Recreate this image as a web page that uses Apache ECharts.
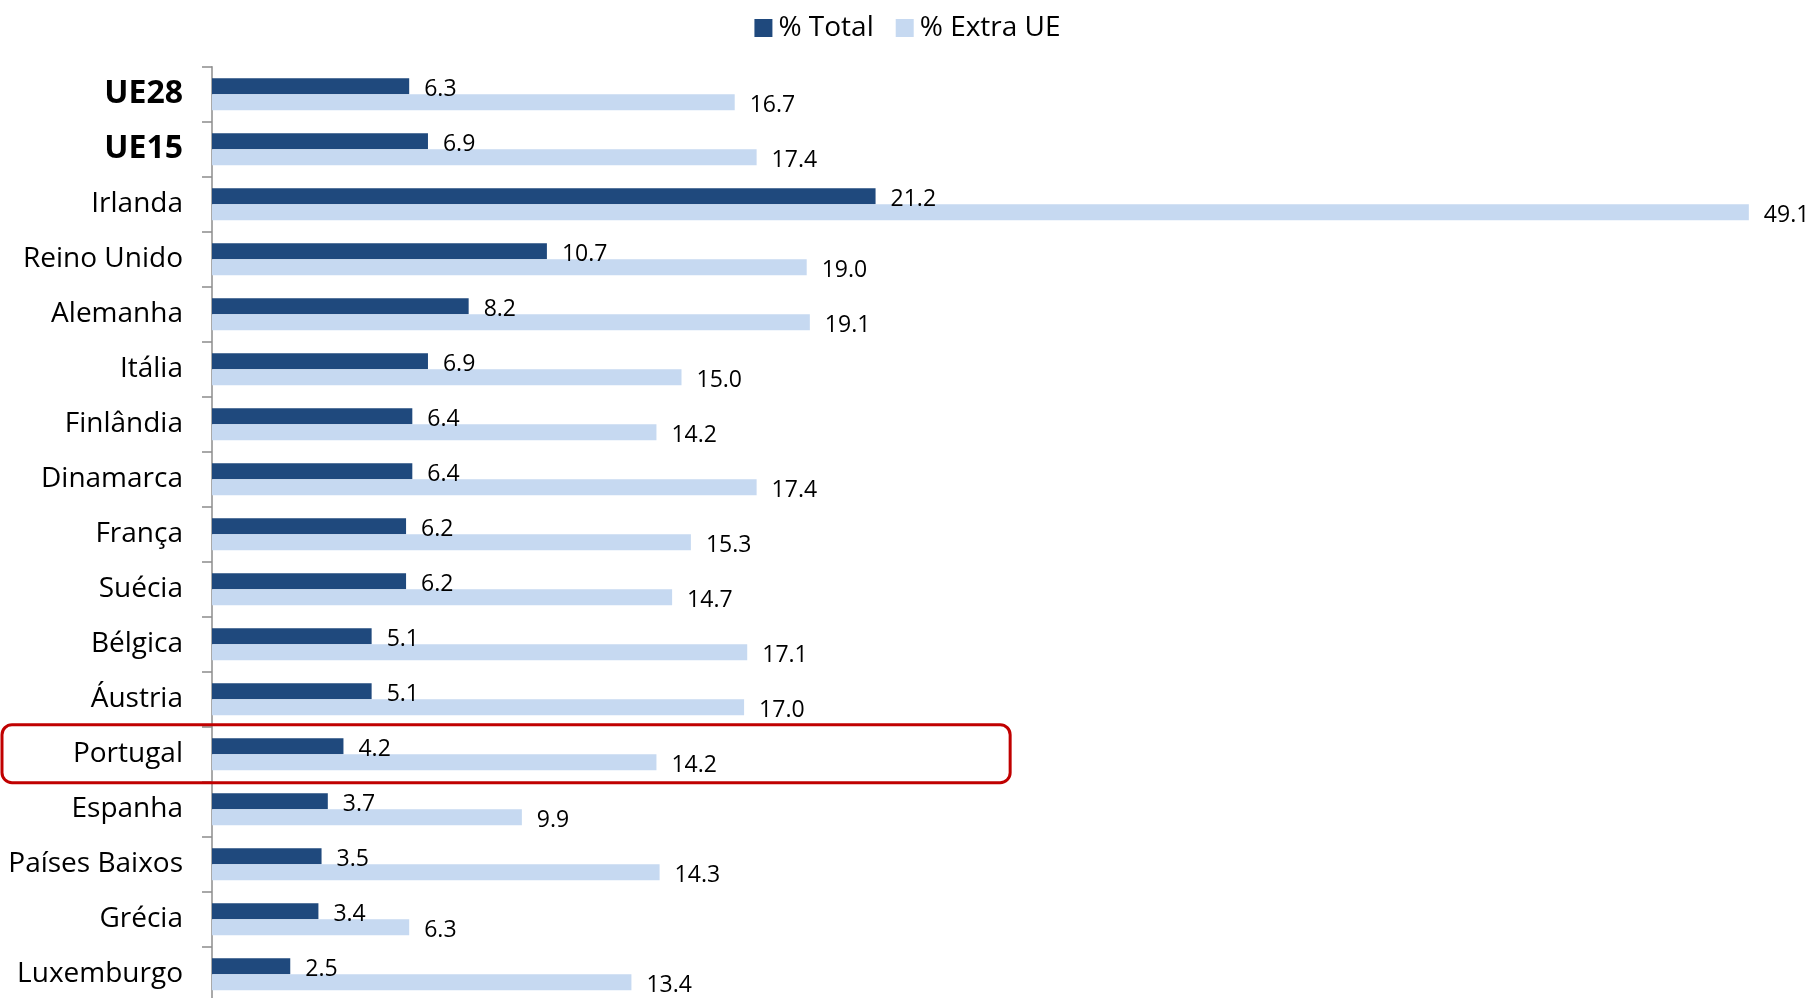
<!DOCTYPE html>
<html>
<head>
<meta charset="utf-8">
<script src="https://cdn.jsdelivr.net/npm/echarts@6/dist/echarts.min.js"></script>
<style>
html,body{margin:0;padding:0;background:#fff;}
#chart{width:1815px;height:998px;}
</style>
</head>
<body>
<div id="chart"></div>
<script>
const categories = ["UE28","UE15","Irlanda","Reino Unido","Alemanha","Itália","Finlândia","Dinamarca","França","Suécia","Bélgica","Áustria","Portugal","Espanha","Países Baixos","Grécia","Luxemburgo"];
const totalValues = [6.3,6.9,21.2,10.7,8.2,6.9,6.4,6.4,6.2,6.2,5.1,5.1,4.2,3.7,3.5,3.4,2.5];
const extraUEValues = [16.7,17.4,49.1,19.0,19.1,15.0,14.2,17.4,15.3,14.7,17.1,17.0,14.2,9.9,14.3,6.3,13.4];
const seriesNames = ["% Total","% Extra UE"];
const boldCategories = ["UE28","UE15"];
const highlightCategory = "Portugal";
const highlightRightValue = 25.5;

const FONT = "'Open Sans', 'Noto Sans', sans-serif";
const chart = echarts.init(document.getElementById('chart'));

const labelCommon = {
  show: true,
  position: 'right',
  distance: 15,
  offset: [0, 3],
  color: '#000',
  fontFamily: FONT,
  fontSize: 23,
  formatter: p => p.value.toFixed(1)
};

chart.setOption({
  animation: false,
  textStyle: {fontFamily: FONT},
  legend: {
    top: 9,
    left: 'center',
    itemWidth: 18,
    itemHeight: 18,
    itemGap: 22,
    icon: 'rect',
    textStyle: {fontSize: 28, color: '#000', fontFamily: FONT, padding: [0,0,0,1]},
    data: seriesNames
  },
  grid: {left: 212, top: 66.7, width: 1565, height: 935, containLabel: false, outerBoundsMode: 'none'},
  xAxis: {
    type: 'value', min: 0, max: 50, show: false
  },
  yAxis: {
    type: 'category',
    inverse: true,
    data: categories,
    axisLine: {show: true, lineStyle: {color: '#8c8c8c', width: 1.5}},
    axisTick: {show: true, length: 10, lineStyle: {color: '#8c8c8c', width: 1.5}},
    axisLabel: {
      margin: 29,
      fontSize: 28,
      color: '#000',
      fontFamily: FONT,
      formatter: v => boldCategories.includes(v) ? '{b|' + v + '}' : v,
      rich: {b: {fontWeight: 'bold', fontSize: 32, fontFamily: FONT, color: '#000'}}
    }
  },
  series: [
    {
      name: seriesNames[0], type: 'bar', data: totalValues,
      barWidth: 16, barGap: '0%',
      itemStyle: {color: '#1F497D'},
      label: labelCommon
    },
    {
      name: seriesNames[1], type: 'bar', data: extraUEValues,
      barWidth: 16, barGap: '0%',
      itemStyle: {color: '#C6D9F1'},
      label: labelCommon
    }
  ]
});

// Highlight box around the Portugal row
const c0 = chart.convertToPixel({gridIndex: 0}, [0, categories[0]]);
const c1 = chart.convertToPixel({gridIndex: 0}, [0, categories[1]]);
const band = Math.abs(c1[1] - c0[1]);
const pc = chart.convertToPixel({gridIndex: 0}, [highlightRightValue, highlightCategory]);
chart.setOption({
  graphic: [{
    type: 'rect',
    shape: {x: 2, y: pc[1] - band / 2 - 2, width: pc[0] - 2, height: band + 3, r: 10},
    style: {fill: 'none', stroke: '#C00000', lineWidth: 3},
    z: 100
  }]
});
</script>
</body>
</html>
